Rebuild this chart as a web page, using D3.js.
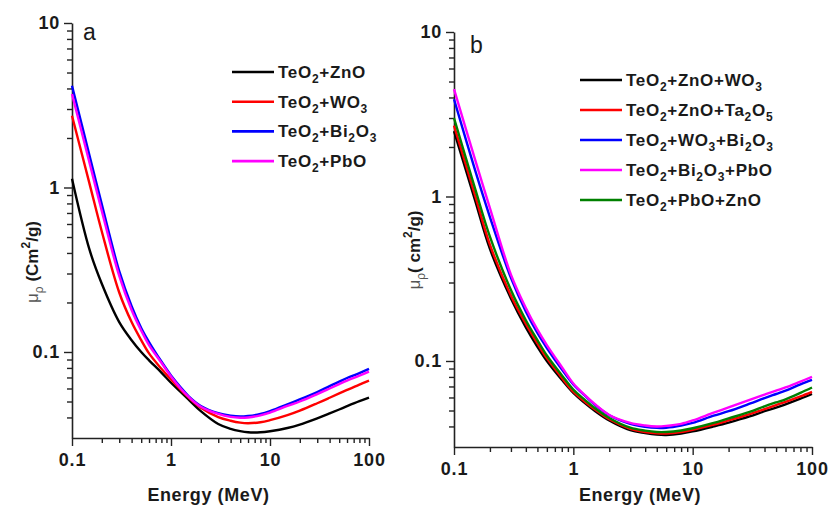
<!DOCTYPE html>
<html>
<head>
<meta charset="utf-8">
<script src="https://cdn.jsdelivr.net/npm/d3@7"></script>
<style>
  body { margin: 0; background: #fff; }
  text { font-family: "Liberation Sans", Arial, sans-serif; }
</style>
</head>
<body>
<div id="chart"></div>
<script>
// energies (MeV) shared by every series
var energy = [0.1, 0.15, 0.2, 0.3, 0.4, 0.5, 0.6, 0.8, 1, 1.25, 1.5, 2, 3, 4, 5, 6, 8, 10, 15, 20, 30, 40, 50, 60, 80, 100];

// panel a : binary glasses
var teZnO   = [1.13, 0.42, 0.26, 0.152, 0.118, 0.100, 0.089, 0.075, 0.065, 0.0572, 0.0515, 0.0437, 0.0365, 0.0341, 0.0330, 0.0325, 0.0325, 0.0330, 0.0345, 0.0362, 0.0395, 0.0423, 0.0447, 0.0468, 0.0502, 0.0528];
var teWO3   = [2.73, 1.06, 0.54, 0.23, 0.152, 0.118, 0.098, 0.079, 0.068, 0.059, 0.053, 0.0458, 0.0402, 0.0382, 0.0372, 0.0369, 0.0374, 0.0385, 0.0413, 0.044, 0.0488, 0.0527, 0.056, 0.0588, 0.0634, 0.067];
var teBi2O3 = [4.15, 1.57, 0.79, 0.31, 0.19, 0.14, 0.115, 0.0875, 0.072, 0.061, 0.054, 0.047, 0.0425, 0.041, 0.0405, 0.0408, 0.042, 0.0437, 0.048, 0.0515, 0.057, 0.062, 0.066, 0.0695, 0.0745, 0.079];
var tePbO   = [3.7, 1.42, 0.72, 0.29, 0.18, 0.135, 0.11, 0.086, 0.071, 0.060, 0.0535, 0.0465, 0.042, 0.0403, 0.0398, 0.040, 0.0412, 0.0428, 0.047, 0.050, 0.0555, 0.060, 0.0638, 0.067, 0.0718, 0.076];

// panel b : ternary glasses
var teZnWO3   = [2.5, 0.95, 0.48, 0.24, 0.16, 0.122, 0.100, 0.077, 0.064, 0.0555, 0.050, 0.0435, 0.038, 0.0365, 0.0357, 0.0355, 0.0362, 0.0373, 0.040, 0.0422, 0.046, 0.0495, 0.052, 0.0545, 0.059, 0.063];
var teZnTa2O5 = [2.7, 1.02, 0.51, 0.25, 0.168, 0.128, 0.104, 0.079, 0.065, 0.0565, 0.051, 0.0442, 0.0387, 0.037, 0.0363, 0.0362, 0.037, 0.0382, 0.041, 0.0435, 0.0475, 0.051, 0.054, 0.0565, 0.061, 0.065];
var teWO3Bi   = [3.9, 1.45, 0.75, 0.32, 0.2, 0.148, 0.12, 0.089, 0.072, 0.0615, 0.0545, 0.0468, 0.0415, 0.0398, 0.0392, 0.0393, 0.0405, 0.042, 0.0465, 0.0495, 0.055, 0.0595, 0.063, 0.066, 0.072, 0.0767];
var teBiPbO   = [4.5, 1.68, 0.85, 0.335, 0.21, 0.155, 0.125, 0.092, 0.073, 0.062, 0.055, 0.047, 0.042, 0.0405, 0.040, 0.0403, 0.0415, 0.0435, 0.0485, 0.0522, 0.058, 0.0625, 0.066, 0.069, 0.075, 0.080];
var tePbZnO   = [3.0, 1.12, 0.57, 0.27, 0.177, 0.134, 0.108, 0.082, 0.067, 0.058, 0.052, 0.045, 0.0393, 0.0377, 0.037, 0.037, 0.0378, 0.039, 0.042, 0.0448, 0.049, 0.053, 0.056, 0.0585, 0.064, 0.069];

var namesA = ["TeO2+ZnO", "TeO2+WO3", "TeO2+Bi2O3", "TeO2+PbO"];
var namesB = ["TeO2+ZnO+WO3", "TeO2+ZnO+Ta2O5", "TeO2+WO3+Bi2O3", "TeO2+Bi2O3+PbO", "TeO2+PbO+ZnO"];

var xTicks = [0.1, 1, 10, 100];
var yTicks = [0.1, 1, 10];

var svg = d3.select("#chart")
  .append("svg")
  .attr("width", 829)
  .attr("height", 507);

var font = "'Liberation Sans', Arial, sans-serif";

// every digit in a formula is a subscript
function chem(sel, str) {
  var parts = str.match(/\d+|[^\d]+/g);
  var down = false;
  parts.forEach(function(p) {
    var t = sel.append("tspan").text(p);
    if (/\d/.test(p)) {
      t.attr("font-size", 12).attr("dy", 5);
      down = true;
    } else {
      if (down) t.attr("dy", -5);
      down = false;
    }
  });
}

function isDecade(v) {
  var l = Math.log10(v);
  return Math.abs(l - Math.round(l)) < 1e-6;
}

function drawPanel(p) {
  var x = d3.scaleLog().domain([0.1, 100]).range([p.left, p.right]);
  var y = d3.scaleLog().domain([0.03, 10]).range([p.bottom, p.top]);
  var g = svg.append("g");

  var xMinor = x.ticks().filter(function(v) { return !isDecade(v); });
  var yMinor = y.ticks().filter(function(v) { return !isDecade(v) && v > 0.035; });

  // minor ticks
  g.append("g")
    .attr("transform", "translate(0," + p.bottom + ")")
    .call(d3.axisBottom(x).tickValues(xMinor).tickSize(5).tickSizeOuter(0).tickFormat(""))
    .call(function(a) { a.select(".domain").remove(); });
  g.append("g")
    .attr("transform", "translate(" + p.left + ",0)")
    .call(d3.axisLeft(y).tickValues(yMinor).tickSize(5).tickSizeOuter(0).tickFormat(""))
    .call(function(a) { a.select(".domain").remove(); });

  // major ticks + labels
  var xa = g.append("g")
    .attr("transform", "translate(0," + p.bottom + ")")
    .call(d3.axisBottom(x).tickValues(xTicks).tickSize(8).tickSizeOuter(0)
      .tickFormat(function(d) { return String(d); }));
  xa.selectAll("text").attr("y", 28).attr("dy", 0);

  g.append("g")
    .attr("transform", "translate(" + p.left + ",0)")
    .call(d3.axisLeft(y).tickValues(yTicks).tickSize(8).tickPadding(4).tickSizeOuter(0)
      .tickFormat(function(d) { return String(d); }));

  g.selectAll(".tick line").attr("stroke", "#222").attr("stroke-width", 1.4);
  g.selectAll(".domain").attr("stroke", "#222").attr("stroke-width", 1.6);
  g.selectAll(".tick text")
    .attr("font-family", font)
    .attr("font-weight", "bold")
    .attr("font-size", 18)
    .attr("letter-spacing", 0.8)
    .attr("fill", "#1a1a1a");

  var line = d3.line()
    .x(function(d) { return x(d[0]); })
    .y(function(d) { return y(d[1]); })
    .curve(d3.curveCatmullRom.alpha(0.5));

  p.series.forEach(function(s) {
    g.append("path")
      .datum(energy.map(function(e, i) { return [e, s.values[i]]; }))
      .attr("fill", "none")
      .attr("stroke", s.color)
      .attr("stroke-width", 2.4)
      .attr("d", line);
  });

  // panel letter
  g.append("text")
    .attr("x", p.letterX)
    .attr("y", p.letterY)
    .attr("font-family", font)
    .attr("font-size", 23)
    .attr("fill", "#1a1a1a")
    .text(p.letter);

  // legend
  p.series.forEach(function(s, i) {
    var ly = p.legY + i * p.legStep;
    g.append("line")
      .attr("x1", p.legX).attr("x2", p.legX + 42)
      .attr("y1", ly).attr("y2", ly)
      .attr("stroke", s.color)
      .attr("stroke-width", 2.6);
    var t = g.append("text")
      .attr("x", p.legX + 46)
      .attr("y", ly + 6)
      .attr("font-family", font)
      .attr("font-weight", "bold")
      .attr("font-size", 17)
      .attr("letter-spacing", 0.7)
      .attr("fill", "#1a1a1a");
    chem(t, s.name);
  });

  // x title
  g.append("text")
    .attr("x", (p.left + p.right) / 2 + p.titleShift)
    .attr("y", 501)
    .attr("text-anchor", "middle")
    .attr("font-family", font)
    .attr("font-weight", "bold")
    .attr("font-size", 18)
    .attr("letter-spacing", 0.6)
    .attr("fill", "#1a1a1a")
    .text("Energy (MeV)");

  // y title
  var yt = g.append("text")
    .attr("transform", "translate(" + p.yTitleX + "," + p.yTitleY + ") rotate(-90)")
    .attr("text-anchor", "middle")
    .attr("font-family", font)
    .attr("font-size", 17)
    .attr("fill", "#1a1a1a");
  yt.append("tspan").attr("font-weight", "normal").attr("fill", "#555").text("\u03bc");
  yt.append("tspan").attr("font-weight", "normal").attr("fill", "#555").attr("font-size", 12).attr("dy", 5).text("\u03c1");
  yt.append("tspan").attr("font-weight", "bold").attr("dy", -5).text(p.unitA);
  yt.append("tspan").attr("font-weight", "bold").attr("font-size", 12).attr("dy", -8).text("2");
  yt.append("tspan").attr("font-weight", "bold").attr("dy", 8).text("/g)");
}

drawPanel({
  left: 72, right: 369, top: 23, bottom: 438,
  letter: "a", letterX: 83, letterY: 40,
  legX: 232, legY: 72, legStep: 29.7,
  titleShift: -12,
  yTitleX: 38, yTitleY: 262, unitA: " (Cm",
  series: [
    { name: namesA[0], values: teZnO, color: "#000000" },
    { name: namesA[1], values: teWO3, color: "#ff0000" },
    { name: namesA[2], values: teBi2O3, color: "#0000ff" },
    { name: namesA[3], values: tePbO, color: "#ff00ff" }
  ]
});

drawPanel({
  left: 454, right: 812, top: 32, bottom: 447,
  letter: "b", letterX: 470, letterY: 53,
  legX: 580, legY: 80, legStep: 30,
  titleShift: 7,
  yTitleX: 420, yTitleY: 250, unitA: "( cm",
  series: [
    { name: namesB[0], values: teZnWO3, color: "#000000" },
    { name: namesB[1], values: teZnTa2O5, color: "#ff0000" },
    { name: namesB[2], values: teWO3Bi, color: "#0000ff" },
    { name: namesB[3], values: teBiPbO, color: "#ff00ff" },
    { name: namesB[4], values: tePbZnO, color: "#008000" }
  ]
});
</script>
</body>
</html>
